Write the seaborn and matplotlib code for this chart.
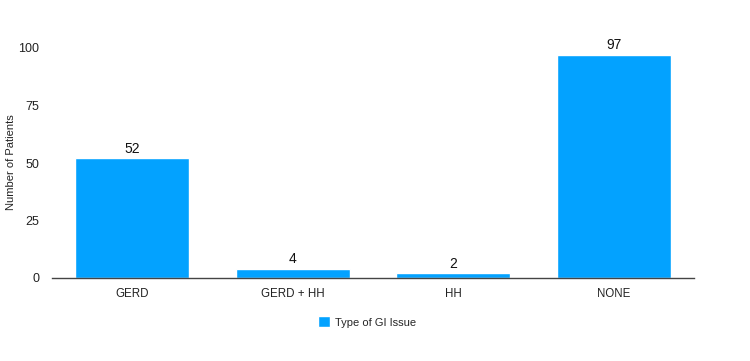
import matplotlib
matplotlib.use("Agg")
import matplotlib.pyplot as plt
import seaborn as sns
import pandas as pd

categories = ["GERD", "GERD + HH", "HH", "NONE"]
patients = [52, 4, 2, 97]
series_name = "Type of GI Issue"
y_ticks = [0, 25, 50, 75, 100]

sns.set_theme(style="white")
plt.rcParams["font.family"] = ["Liberation Sans", "DejaVu Sans"]

df = pd.DataFrame({"cat": categories, "n": patients, "series": [series_name] * len(categories)})

fig = plt.figure(figsize=(7.5, 3.61), dpi=100)
ax = fig.add_axes([52 / 750, (361 - 278) / 361, (694 - 52) / 750, (278 - 25) / 361])

sns.barplot(data=df, x="cat", y="n", hue="series", palette=["#03A2FF"],
            width=0.71, saturation=1, ax=ax, legend=True)

ax.set_xlim(-0.5, 3.5)
ax.set_ylim(0, 110)
ax.set_yticks(y_ticks)
ax.tick_params(axis="y", length=0, pad=9, labelsize=9, labelcolor="#222222")
ax.tick_params(axis="x", length=0, pad=7, labelsize=8.3, labelcolor="#222222")
ax.set_xlabel("")
ax.set_ylabel("Number of Patients", fontsize=8, color="#222222", va="center")
ax.yaxis.set_label_coords((11 - 52) / 642, (278 - 162) / 253)

for s in ["top", "right", "left"]:
    ax.spines[s].set_visible(False)
ax.spines["bottom"].set_color("#444444")
ax.spines["bottom"].set_linewidth(1.0)
ax.grid(False)

for c in ax.containers:
    ax.bar_label(c, fmt="%d", padding=2, fontsize=10, color="#111111")

leg = ax.legend(loc="center", bbox_to_anchor=(0.5 - 6 / 642, (278 - 322) / 253), ncol=1,
                frameon=False, fontsize=8, handlelength=1.1, handleheight=1.1,
                handletextpad=0.5)

fig.savefig("out.png", dpi=100)
